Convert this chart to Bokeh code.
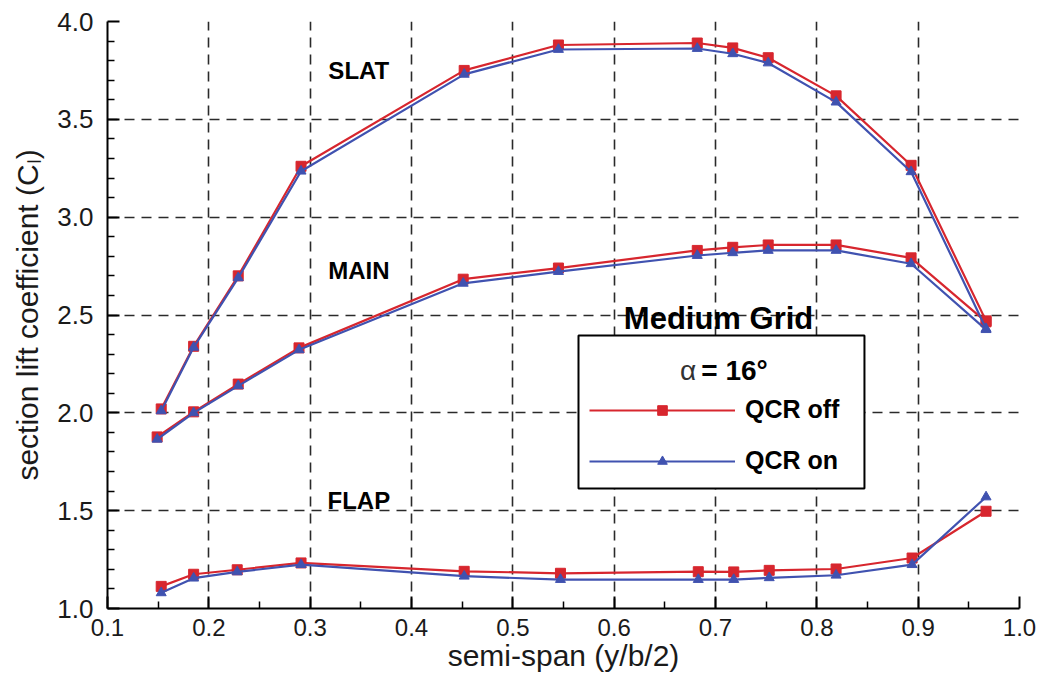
from bokeh.plotting import figure
from bokeh.models import (Range1d, FixedTicker, Legend, LegendItem, Label,
                          BoxAnnotation)
from bokeh.embed import file_html
from bokeh.resources import INLINE

# ---- axes ----
x_ticks = [0.1, 0.2, 0.3, 0.4, 0.5, 0.6, 0.7, 0.8, 0.9, 1.0]
x_tick_labels = ["0.1", "0.2", "0.3", "0.4", "0.5", "0.6", "0.7", "0.8", "0.9", "1.0"]
x_minor = [0.15, 0.25, 0.35, 0.45, 0.55, 0.65, 0.75, 0.85, 0.95]
y_ticks = [1.0, 1.5, 2.0, 2.5, 3.0, 3.5, 4.0]
y_tick_labels = ["1.0", "1.5", "2.0", "2.5", "3.0", "3.5", "4.0"]
y_minor = [1.1, 1.2, 1.3, 1.4, 1.6, 1.7, 1.8, 1.9, 2.1, 2.2, 2.3, 2.4,
           2.6, 2.7, 2.8, 2.9, 3.1, 3.2, 3.3, 3.4, 3.6, 3.7, 3.8, 3.9]

# ---- spanwise stations (y/b/2) ----
slat_x = [0.153, 0.185, 0.229, 0.291, 0.452, 0.545, 0.682, 0.717, 0.752, 0.819, 0.893, 0.967]
main_x = [0.149, 0.185, 0.229, 0.289, 0.451, 0.545, 0.682, 0.717, 0.752, 0.819, 0.893, 0.967]
flap_x = [0.153, 0.185, 0.228, 0.291, 0.452, 0.547, 0.683, 0.718, 0.753, 0.819, 0.894, 0.967]

# ---- section lift coefficient, QCR off ----
slat_off = [2.02, 2.34, 2.70, 3.26, 3.75, 3.88, 3.89, 3.865, 3.815, 3.62, 3.265, 2.47]
main_off = [1.877, 2.005, 2.147, 2.332, 2.683, 2.74, 2.83, 2.846, 2.858, 2.858, 2.792, 2.465]
flap_off = [1.113, 1.175, 1.198, 1.233, 1.19, 1.18, 1.188, 1.187, 1.195, 1.202, 1.258, 1.497]

# ---- section lift coefficient, QCR on ----
slat_on = [2.01, 2.335, 2.69, 3.235, 3.73, 3.857, 3.862, 3.835, 3.788, 3.588, 3.232, 2.43]
main_on = [1.865, 2.0, 2.138, 2.322, 2.662, 2.722, 2.804, 2.818, 2.83, 2.83, 2.762, 2.425]
flap_on = [1.08, 1.155, 1.187, 1.224, 1.165, 1.148, 1.148, 1.148, 1.157, 1.17, 1.224, 1.57]

series_names = ["QCR off", "QCR on"]
element_names = ["SLAT", "MAIN", "FLAP"]

FONT = "Liberation Sans"
RED = "#d7262e"
BLUE = "#4052b0"

p = figure(width=1044, height=679,
           x_range=Range1d(0.1, 1.0), y_range=Range1d(1.0, 4.0),
           output_backend="svg", toolbar_location=None,
           min_border_left=107, min_border_right=25,
           min_border_top=21, min_border_bottom=71)
p.outline_line_color = None
p.background_fill_color = "white"
p.border_fill_color = "white"

p.xaxis.ticker = FixedTicker(ticks=x_ticks, minor_ticks=x_minor)
p.yaxis.ticker = FixedTicker(ticks=y_ticks, minor_ticks=y_minor)
p.xaxis.major_label_overrides = dict(zip(x_ticks, x_tick_labels))
p.yaxis.major_label_overrides = dict(zip(y_ticks, y_tick_labels))

for ax in (p.xaxis[0], p.yaxis[0]):
    ax.axis_line_color = "black"
    ax.axis_line_width = 2
    ax.major_tick_line_color = "black"
    ax.major_tick_line_width = 2
    ax.minor_tick_line_color = "black"
    ax.minor_tick_line_width = 1.5
    ax.major_tick_in = 12
    ax.major_tick_out = 0
    ax.minor_tick_in = 7
    ax.minor_tick_out = 0
    ax.major_label_text_font = FONT
    ax.major_label_text_color = "#1a1a1a"
    ax.axis_label_text_font = FONT
    ax.axis_label_text_font_style = "normal"
    ax.axis_label_text_color = "#1a1a1a"
    ax.axis_label_text_font_size = "30px"

p.xaxis.major_label_text_font_size = "24px"
p.yaxis.major_label_text_font_size = "26px"
p.xaxis.major_label_standoff = 10
p.xaxis.axis_label_standoff = 0
p.yaxis.major_label_standoff = 14
p.yaxis.axis_label_standoff = 10
p.xaxis.axis_label = "semi-span (y/b/2)"
p.yaxis.axis_label = "section lift coefficient (C\u2097)"

for g in (p.xgrid[0], p.ygrid[0]):
    g.grid_line_color = "#2a2a2a"
    g.grid_line_width = 1.6
    g.grid_line_dash = "10 7"

# ---- curves: one line + markers per element and QCR setting ----
off_items, on_items = [], []
for xs, ys in ((slat_x, slat_off), (main_x, main_off), (flap_x, flap_off)):
    l = p.line(xs, ys, line_color=RED, line_width=2.2)
    m = p.scatter(xs, ys, marker="square", size=10, fill_color=RED, line_color=RED)
    off_items += [l, m]
for xs, ys in ((slat_x, slat_on), (main_x, main_on), (flap_x, flap_on)):
    l = p.line(xs, ys, line_color=BLUE, line_width=2.2)
    m = p.scatter(xs, ys, marker="triangle", size=10, fill_color=BLUE, line_color=BLUE)
    on_items += [l, m]

# ---- element labels ----
for name, ly in zip(element_names, [3.75, 2.727, 1.552]):
    p.add_layout(Label(x=0.348, y=ly, text=name, text_align="center",
                       text_baseline="middle", text_font=FONT,
                       text_font_size="24px", text_font_style="bold",
                       text_color="black"))

# ---- legend box with case description ----
p.add_layout(Label(x=0.703, y=2.482, text="Medium Grid", text_align="center",
                   text_baseline="middle", text_font=FONT, text_font_size="31px",
                   text_font_style="bold", text_color="black"))

box = BoxAnnotation(left=0.5648, right=0.847, top=2.395, bottom=1.613,
                    fill_color="white", fill_alpha=1.0,
                    line_color="black", line_alpha=1.0, line_width=2)
p.add_layout(box)

p.add_layout(Label(x=0.681, y=2.216, text="\u03b1", text_align="right",
                   text_baseline="middle", text_font=FONT, text_font_size="28px",
                   text_color="#333333"))
p.add_layout(Label(x=0.686, y=2.216, text="= 16\u00b0", text_align="left",
                   text_baseline="middle", text_font=FONT, text_font_size="28px",
                   text_font_style="bold", text_color="black"))

legend = Legend(items=[LegendItem(label=series_names[0], renderers=off_items[:2]),
                       LegendItem(label=series_names[1], renderers=on_items[:2])],
                location=(482, 133), orientation="vertical",
                padding=0, spacing=22, margin=0,
                glyph_width=146, glyph_height=24, label_height=24,
                label_standoff=10,
                label_text_font=FONT, label_text_font_size="25px",
                label_text_font_style="bold", label_text_color="black",
                border_line_color=None, background_fill_alpha=0.0)
p.add_layout(legend)

open("out.html", "w").write(file_html(p, INLINE))
